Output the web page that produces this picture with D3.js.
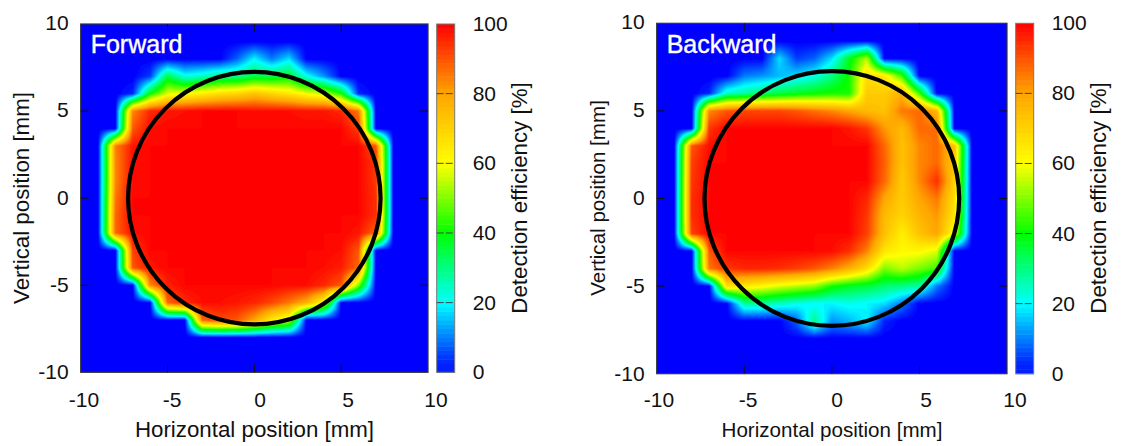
<!DOCTYPE html>
<html>
<head>
<meta charset="utf-8">
<script src="https://cdn.jsdelivr.net/npm/d3@7/dist/d3.min.js"></script>
<style>
    body { margin: 0; background: #fff; }
    text { font-family: "Liberation Sans", Arial, sans-serif; fill: #111; }
</style>
</head>
<body>
<script>
// scan positions in mm, grid runs from the top row (y = 10) down
var positions = [-10, -9, -8, -7, -6, -5, -4, -3, -2, -1, 0, 1, 2, 3, 4, 5, 6, 7, 8, 9, 10];
var axisTicks = [-10, -5, 0, 5, 10];
var efficiencyTicks = [0, 20, 40, 60, 80, 100];
var colorStops = [0, 20, 40, 60, 80, 100];
var colorValues = ['#0000ff', '#00ffff', '#00ff00', '#ffff00', '#ffa500', '#ff0000'];
var apertureRadius = 7.27;

var forwardGrid = [
    [0, 0, 0, 0, 0, 0, 0, 0, 0, 0, 0, 0, 0, 0, 0, 0, 0, 0, 0, 0, 0],
    [0, 0, 0, 0, 0, 0, 0, 0, 0, 0, 0, 0, 0, 0, 0, 0, 0, 0, 0, 0, 0],
    [0, 0, 0, 0, 0, 0, 0, 0, 0, 8, 20, 10, 18, 0, 0, 0, 0, 0, 0, 0, 0],
    [0, 0, 0, 0, 5, 35, 22, 25, 30, 30, 35, 35, 38, 22, 12, 0, 0, 0, 0, 0, 0],
    [0, 0, 0, 3, 40, 58, 60, 64, 68, 70, 74, 70, 66, 60, 56, 42, 3, 0, 0, 0, 0],
    [0, 0, 0, 84, 96, 98, 99, 100, 100, 100, 99, 99, 99, 98, 98, 96, 86, 0, 0, 0, 0],
    [0, 0, 0, 90, 99, 100, 100, 100, 100, 100, 100, 100, 100, 100, 100, 100, 93, 0, 0, 0, 0],
    [0, 0, 85, 98, 100, 100, 100, 100, 100, 100, 100, 100, 100, 100, 100, 100, 100, 90, 0, 0, 0],
    [0, 0, 84, 99, 100, 100, 100, 100, 100, 100, 100, 100, 100, 100, 100, 100, 100, 94, 0, 0, 0],
    [0, 0, 84, 99, 100, 100, 100, 100, 100, 100, 100, 100, 100, 100, 100, 100, 100, 94, 0, 0, 0],
    [0, 0, 86, 100, 100, 100, 100, 100, 100, 100, 100, 100, 100, 100, 100, 100, 100, 95, 0, 0, 0],
    [0, 0, 88, 100, 100, 100, 100, 100, 100, 100, 100, 100, 100, 100, 100, 100, 100, 95, 0, 0, 0],
    [0, 0, 88, 99, 100, 100, 100, 100, 100, 100, 100, 100, 100, 100, 100, 100, 98, 88, 0, 0, 0],
    [0, 0, 0, 93, 100, 100, 100, 100, 100, 100, 100, 100, 100, 100, 100, 99, 90, 0, 0, 0, 0],
    [0, 0, 0, 90, 98, 100, 100, 100, 100, 100, 100, 100, 100, 100, 99, 97, 88, 0, 0, 0, 0],
    [0, 0, 0, 0, 84, 97, 100, 100, 100, 100, 100, 100, 99, 99, 96, 90, 50, 0, 0, 0, 0],
    [0, 0, 0, 0, 0, 88, 96, 99, 99, 98, 96, 92, 86, 78, 60, 0, 0, 0, 0, 0, 0],
    [0, 0, 0, 0, 0, 0, 0, 88, 92, 90, 80, 65, 56, 0, 0, 0, 0, 0, 0, 0, 0],
    [0, 0, 0, 0, 0, 0, 0, 0, 0, 0, 0, 0, 0, 0, 0, 0, 0, 0, 0, 0, 0],
    [0, 0, 0, 0, 0, 0, 0, 0, 0, 0, 0, 0, 0, 0, 0, 0, 0, 0, 0, 0, 0],
    [0, 0, 0, 0, 0, 0, 0, 0, 0, 0, 0, 0, 0, 0, 0, 0, 0, 0, 0, 0, 0]
];

var backwardGrid = [
    [0, 0, 0, 0, 0, 0, 0, 0, 0, 0, 0, 0, 0, 0, 0, 0, 0, 0, 0, 0, 0],
    [0, 0, 0, 0, 0, 0, 0, 0, 0, 0, 0, 0, 0, 0, 0, 0, 0, 0, 0, 0, 0],
    [0, 0, 0, 0, 0, 0, 0, 18, 5, 8, 18, 38, 55, 0, 0, 0, 0, 0, 0, 0, 0],
    [0, 0, 0, 0, 0, 10, 12, 15, 18, 22, 30, 42, 68, 65, 45, 0, 0, 0, 0, 0, 0],
    [0, 0, 0, 3, 25, 28, 32, 35, 38, 40, 42, 42, 72, 72, 78, 45, 0, 0, 0, 0, 0],
    [0, 0, 0, 84, 90, 92, 92, 92, 90, 87, 84, 80, 76, 74, 86, 88, 76, 0, 0, 0, 0],
    [0, 0, 0, 94, 100, 100, 100, 100, 100, 100, 100, 98, 94, 82, 76, 88, 87, 0, 0, 0, 0],
    [0, 0, 90, 99, 100, 100, 100, 100, 100, 100, 100, 100, 100, 88, 74, 84, 88, 74, 0, 0, 0],
    [0, 0, 93, 100, 100, 100, 100, 100, 100, 100, 100, 100, 100, 89, 74, 84, 88, 72, 0, 0, 0],
    [0, 0, 94, 100, 100, 100, 100, 100, 100, 100, 100, 100, 100, 88, 72, 84, 95, 70, 0, 0, 0],
    [0, 0, 95, 100, 100, 100, 100, 100, 100, 100, 100, 100, 96, 80, 72, 80, 86, 68, 0, 0, 0],
    [0, 0, 95, 100, 100, 100, 100, 100, 100, 100, 100, 100, 94, 76, 70, 77, 82, 66, 0, 0, 0],
    [0, 0, 93, 100, 100, 100, 100, 100, 100, 100, 100, 100, 93, 75, 64, 74, 80, 60, 0, 0, 0],
    [0, 0, 0, 90, 100, 100, 100, 100, 100, 100, 99, 95, 85, 66, 62, 62, 58, 0, 0, 0, 0],
    [0, 0, 0, 86, 94, 96, 96, 95, 93, 90, 85, 78, 68, 50, 55, 50, 45, 0, 0, 0, 0],
    [0, 0, 0, 0, 68, 65, 62, 58, 55, 52, 42, 38, 36, 32, 30, 28, 10, 0, 0, 0, 0],
    [0, 0, 0, 0, 0, 28, 28, 25, 22, 20, 20, 22, 20, 18, 10, 0, 0, 0, 0, 0, 0],
    [0, 0, 0, 0, 0, 0, 0, 0, 8, 30, 12, 15, 20, 3, 0, 0, 0, 0, 0, 0, 0],
    [0, 0, 0, 0, 0, 0, 0, 0, 0, 0, 0, 0, 0, 0, 0, 0, 0, 0, 0, 0, 0],
    [0, 0, 0, 0, 0, 0, 0, 0, 0, 0, 0, 0, 0, 0, 0, 0, 0, 0, 0, 0, 0],
    [0, 0, 0, 0, 0, 0, 0, 0, 0, 0, 0, 0, 0, 0, 0, 0, 0, 0, 0, 0, 0]
];

var color = d3.scaleLinear().domain(colorStops).range(colorValues);
var tickFont = 21;
var sub = 8; // screen sampling inside one grid cell

var svg = d3.select('body').append('svg')
    .attr('width', 1121)
    .attr('height', 446)
    .style('display', 'block');

// sample the grid bilinearly, same as a pm3d map does when drawing
function sampleGrid(grid) {
    var n = grid.length;
    var m = (n - 1) * sub + 1;
    var out = new Array(m * m);
    for (var j = 0; j < m; j++) {
        var fj = j / sub, j0 = Math.min(Math.floor(fj), n - 2), t = fj - j0;
        for (var i = 0; i < m; i++) {
            var fi = i / sub, i0 = Math.min(Math.floor(fi), n - 2), u = fi - i0;
            out[i + j * m] = (1 - t) * ((1 - u) * grid[j0][i0] + u * grid[j0][i0 + 1])
                + t * ((1 - u) * grid[j0 + 1][i0] + u * grid[j0 + 1][i0 + 1]);
        }
    }
    return { size: m, values: out };
}

function drawPanel(p) {
    var x = d3.scaleLinear().domain([-10, 10]).range([p.left, p.right]);
    var y = d3.scaleLinear().domain([-10, 10]).range([p.bottom, p.top]);
    // tick labels in the original sit a little off their ticks
    var xLabel = d3.scaleLinear().domain([-10, 10]).range(p.xLabelRange);
    var yLabel = d3.scaleLinear().domain([-10, 10]).range([p.bottom, p.top - 1]);
    var g = svg.append('g');

    g.append('rect')
        .attr('x', p.left)
        .attr('y', p.top)
        .attr('width', p.right - p.left)
        .attr('height', p.bottom - p.top)
        .attr('fill', color(0));

    // filled contours give the interpolated map look
    var fine = sampleGrid(p.grid);
    var contours = d3.contours().size([fine.size, fine.size]).thresholds(d3.range(1, 101, 1))(fine.values);
    var project = d3.geoTransform({
        point: function (cx, cy) {
            this.stream.point(x(positions[0] + (cx - 0.5) / sub), y(positions[positions.length - 1] - (cy - 0.5) / sub));
        }
    });
    var path = d3.geoPath(project);
    g.selectAll('path.band')
        .data(contours)
        .enter().append('path')
        .attr('class', 'band')
        .attr('d', path)
        .attr('fill', function (d) { return color(d.value); });

    // aperture circle
    g.append('circle')
        .attr('cx', x(0))
        .attr('cy', y(0))
        .attr('r', x(apertureRadius) - x(0))
        .attr('fill', 'none')
        .attr('stroke', '#000')
        .attr('stroke-width', 4.2);

    g.append('rect')
        .attr('x', p.left)
        .attr('y', p.top)
        .attr('width', p.right - p.left)
        .attr('height', p.bottom - p.top)
        .attr('fill', 'none')
        .attr('stroke', '#333')
        .attr('stroke-width', 1.2);

    // inward ticks on all four sides
    var inner = [-5, 0, 5];
    var tickLen = 8;
    inner.forEach(function (t) {
        g.append('line').attr('x1', x(t)).attr('x2', x(t)).attr('y1', p.bottom).attr('y2', p.bottom - tickLen).attr('stroke', '#111');
        g.append('line').attr('x1', x(t)).attr('x2', x(t)).attr('y1', p.top).attr('y2', p.top + tickLen).attr('stroke', '#111');
        g.append('line').attr('y1', y(t)).attr('y2', y(t)).attr('x1', p.left).attr('x2', p.left + tickLen).attr('stroke', '#111');
        g.append('line').attr('y1', y(t)).attr('y2', y(t)).attr('x1', p.right).attr('x2', p.right - tickLen).attr('stroke', '#111');
    });

    g.selectAll('text.xtick')
        .data(axisTicks)
        .enter().append('text')
        .attr('class', 'xtick')
        .attr('x', xLabel)
        .attr('y', 407)
        .attr('text-anchor', 'middle')
        .style('font-size', tickFont + 'px')
        .text(function (d) { return d; });

    g.selectAll('text.ytick')
        .data(axisTicks)
        .enter().append('text')
        .attr('class', 'ytick')
        .attr('x', p.left - 12)
        .attr('y', function (d) { return yLabel(d) + 7; })
        .attr('text-anchor', 'end')
        .style('font-size', tickFont + 'px')
        .text(function (d) { return d; });

    g.append('text')
        .attr('x', p.xTitleX)
        .attr('y', 437)
        .attr('text-anchor', 'middle')
        .style('font-size', p.xTitleFont + 'px')
        .text('Horizontal position [mm]');

    g.append('text')
        .attr('transform', 'translate(' + p.yTitleX + ',' + p.yTitleY + ') rotate(-90)')
        .attr('text-anchor', 'middle')
        .style('font-size', p.yTitleFont + 'px')
        .text('Vertical position [mm]');

    g.append('text')
        .attr('x', p.left + 10)
        .attr('y', 53)
        .style('font-size', '25px')
        .style('fill', '#fff')
        .style('stroke', '#fff')
        .style('stroke-width', 0.4)
        .text(p.name);

    // colour bar
    var c = d3.scaleLinear().domain([0, 100]).range([p.bottom, p.top]);
    var barWidth = 18;
    var levels = d3.range(0, 100, 1.25);
    g.selectAll('rect.level')
        .data(levels)
        .enter().append('rect')
        .attr('class', 'level')
        .attr('x', p.barLeft)
        .attr('y', function (d) { return c(d + 1.25); })
        .attr('width', barWidth)
        .attr('height', function (d) { return c(d) - c(d + 1.25) + 0.5; })
        .attr('fill', function (d) { return color(Math.max(d + 0.6, 2.5)); });

    g.append('rect')
        .attr('x', p.barLeft)
        .attr('y', p.top)
        .attr('width', barWidth)
        .attr('height', p.bottom - p.top)
        .attr('fill', 'none')
        .attr('stroke', '#777')
        .attr('stroke-width', 1);

    g.selectAll('line.bartick')
        .data(efficiencyTicks.slice(1, 5))
        .enter().append('line')
        .attr('class', 'bartick')
        .attr('x1', p.barLeft)
        .attr('x2', p.barLeft + barWidth)
        .attr('y1', c)
        .attr('y2', c)
        .attr('stroke', '#444')
        .attr('stroke-dasharray', '7,2');

    g.selectAll('text.bartext')
        .data(efficiencyTicks)
        .enter().append('text')
        .attr('class', 'bartext')
        .attr('x', p.barLeft + 36)
        .attr('y', function (d) { return c(d) + 7; })
        .style('font-size', tickFont + 'px')
        .text(function (d) { return d; });

    g.append('text')
        .attr('transform', 'translate(' + (p.barLeft + 90) + ',198) rotate(-90)')
        .attr('text-anchor', 'middle')
        .style('font-size', '22.3px')
        .text('Detection efficiency [%]');
}

drawPanel({
    name: 'Forward', grid: forwardGrid,
    left: 80.7, right: 428, top: 24, bottom: 372.3,
    barLeft: 436.7, xLabelRange: [84, 436],
    xTitleX: 254.5, xTitleFont: 22.3, yTitleX: 29, yTitleY: 198, yTitleFont: 22.3
});
drawPanel({
    name: 'Backward', grid: backwardGrid,
    left: 656.7, right: 1007, top: 23.3, bottom: 373.7,
    barLeft: 1015.7, xLabelRange: [659, 1015],
    xTitleX: 832, xTitleFont: 20.6, yTitleX: 605, yTitleY: 198, yTitleFont: 20.6
});
</script>
</body>
</html>
